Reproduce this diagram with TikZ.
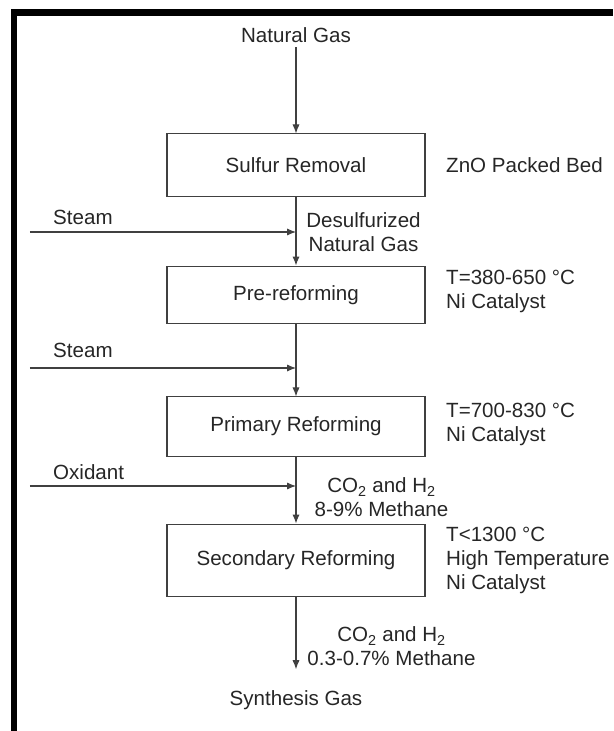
\documentclass[tikz,border=0pt]{standalone}
\usepackage{fontspec}
\setmainfont{Liberation Sans}
\usetikzlibrary{arrows.meta, positioning}

\begin{document}
\begin{tikzpicture}[
    % Styles
    font=\fontsize{19.5}{22.7}\selectfont,
    proc node/.style={rectangle, draw=black!75, line width=1pt, text=black!85, align=center, minimum width=8.6cm, minimum height=2cm},
    stream label/.style={text=black!85, align=center, inner sep=0pt},
    cond label/.style={text=black!85, align=left, anchor=west, inner sep=0pt},
    feed label/.style={text=black!85, anchor=west, inner sep=0pt},
    arrow/.style={-{Latex[length=0.3cm, width=0.24cm]}, draw=black!75, line width=1pt},
    frame line/.style={line width=0.21cm, black}
]

% Canvas and frame
\useasboundingbox (-9.867,0) rectangle (10.567,-24.367);
\draw[frame line] (-9.4,-24.367) |- (10.567,-0.417);

% Main train (x = 0)
\node[stream label] (natgas) at (0,-1.167) {Natural Gas};
\node[proc node, minimum height=2.07cm] (sulfur) at (0,-5.5) {Sulfur Removal};
\node[proc node, minimum height=1.93cm] (prerefor) at (0,-9.833) {Pre-reforming};
\node[proc node, minimum height=1.97cm] (primary) at (0,-14.217) {Primary Reforming};
\node[proc node, minimum height=2.43cm] (secondary) at (0,-18.683) {Secondary Reforming};
\node[stream label] (syngas) at (0,-23.333) {Synthesis Gas};

% Process conditions (right column)
\node[cond label] (zno) at (5.0,-5.5) {ZnO Packed Bed};
\node[cond label] (precond) at (5.0,-9.717) {T=380-650 °C\\Ni Catalyst};
\node[cond label] (primcond) at (5.0,-14.15) {T=700-830 °C\\Ni Catalyst};
\node[cond label] (seccond) at (5.0,-18.683) {T<1300 °C\\High Temperature\\Ni Catalyst};

% Intermediate streams
\node[stream label] (desulf) at (2.25,-7.75) {Desulfurized\\Natural Gas};
\node[stream label] (primout) at (2.85,-16.583) {CO\textsubscript{2} and H\textsubscript{2}\\8-9\% Methane};
\node[stream label] (secout) at (3.183,-21.55) {CO\textsubscript{2} and H\textsubscript{2}\\0.3-0.7\% Methane};

% Feed streams (left)
\coordinate (steamin1) at (-8.867,-7.733);
\coordinate (steamin2) at (-8.867,-12.267);
\coordinate (oxin) at (-8.867,-16.2);
\node[feed label] (steam1) at (-8.1,-7.233) {Steam};
\node[feed label] (steam2) at (-8.1,-11.667) {Steam};
\node[feed label] (oxidant) at (-8.1,-15.733) {Oxidant};

% Connections
\draw[arrow, shorten <=0.15cm] (natgas.south) -- (sulfur.north);
\draw[arrow] (sulfur.south) -- (prerefor.north);
\draw[arrow] (prerefor.south) -- (primary.north);
\draw[arrow] (primary.south) -- (secondary.north);
\draw[arrow, shorten >=0.7cm] (secondary.south) -- (syngas.north);

\draw[arrow] (steamin1) -- (steamin1 -| sulfur.south);
\draw[arrow] (steamin2) -- (steamin2 -| prerefor.south);
\draw[arrow] (oxin) -- (oxin -| primary.south);

\end{tikzpicture}
\end{document}
